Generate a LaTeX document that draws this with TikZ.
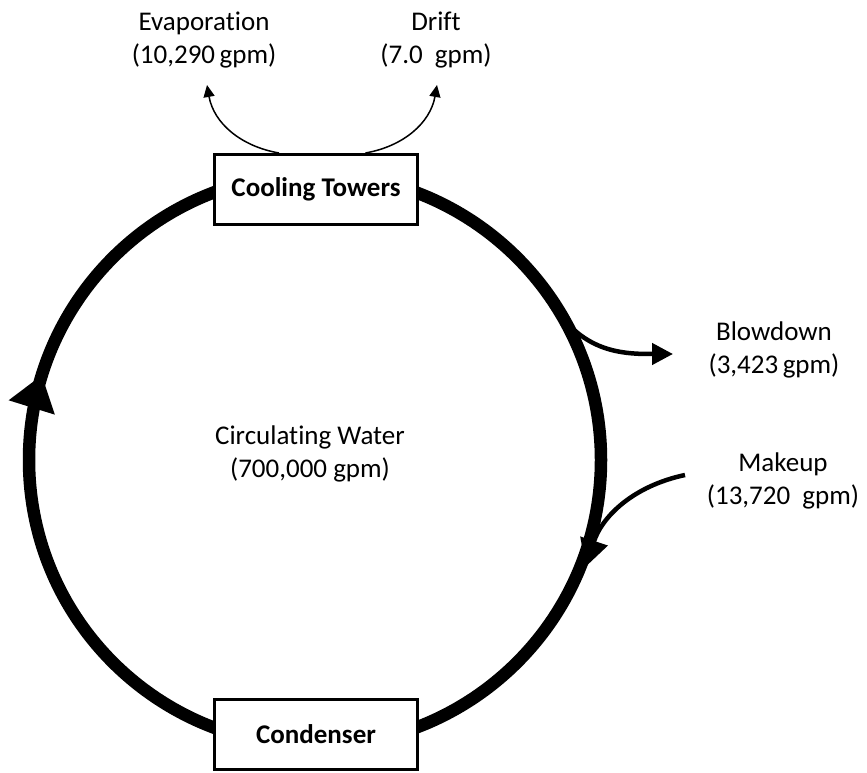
\documentclass[tikz,border=0pt]{standalone}
\usepackage{fontspec}
\setmainfont{Carlito}[Ligatures={NoCommon}]
\usetikzlibrary{arrows.meta,decorations.markings,positioning,calc}
\tikzset{every picture/.style={line width=0.75pt}}
\tikzset{
    unit/.style={draw, fill=white, line width=3pt, minimum width=203pt, minimum height=70pt,
        font=\fontsize{27}{33}\selectfont\bfseries},
    flowlabel/.style={align=center, font=\fontsize{27}{33}\selectfont},
    loss/.style={line width=1.5pt, -{Triangle[length=12pt,width=11pt]}},
    stream/.style={line width=4.5pt, -{Triangle[length=21pt,width=21pt]}},
}

\begin{document}
\begin{tikzpicture}[x=1pt,y=1pt]
    \useasboundingbox (0,0) rectangle (867,772);
    % loop of circulating water, clockwise
    \coordinate (hub) at (315,312);
    \draw[line width=12.5pt, postaction={decorate},
        decoration={markings, mark=at position 0.798 with {\arrow{Triangle[length=34pt,width=46pt]}}}]
        (hub) ++(90:286) arc[start angle=90, delta angle=-360, radius=286];
    \node[unit] (cool) at (316,582.5) {Cooling Towers};
    \node[unit] (cond) at (316,37.5) {Condenser};
    \node[flowlabel] (circ) at (310,318) {Circulating Water\\(700,000 gpm)};
    % streams in and out
    \node[flowlabel] (evap) at (204,732) {Evaporation\\(10,290\,gpm)};
    \node[flowlabel] (drift) at (436,732) {Drift\\(7.0 \ gpm)};
    \node[flowlabel] (blow) at (774,422) {Blowdown\\(3,423\,gpm)};
    \node[flowlabel] (make) at (783,291) {Makeup\\(13,720 \ gpm)};
    \coordinate (evapout) at ($(cool.north west)!0.32!(cool.north east)$);
    \coordinate (driftout) at ($(cool.north west)!0.74!(cool.north east)$);
    \coordinate (evaptip) at (207,687);
    \coordinate (drifttip) at (437,687);
    \coordinate (blowout) at ($(hub)+(29.4:286)$);
    \coordinate (blowtip) at (673,418);
    \coordinate (makein) at (685,297);
    \coordinate (maketip) at ($(hub)+(-21.5:291)$);
    \draw[loss] (evapout) to[out=170, in=-80] (evaptip);
    \draw[loss] (driftout) to[out=10, in=-100] (drifttip);
    \draw[stream] (blowout) to[out=-50, in=180] (blowtip);
    \draw[stream, -{Triangle[length=27pt,width=28pt]}] (makein) to[out=192, in=72] (maketip);
\end{tikzpicture}
\end{document}
